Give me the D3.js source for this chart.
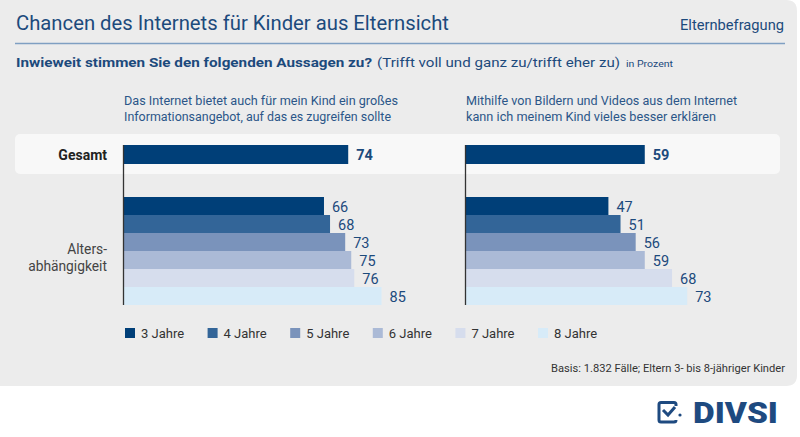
<!DOCTYPE html>
<html><head><meta charset="utf-8">
<script src="https://cdn.jsdelivr.net/npm/d3@7"></script>
<style>
html,body{margin:0;padding:0;background:#fff;}
svg{display:block;font-family:Roboto,"Noto Sans",sans-serif;}
</style></head>
<body>
<script>
const categories = ["3 Jahre","4 Jahre","5 Jahre","6 Jahre","7 Jahre","8 Jahre"];
const gesamtValues = [74, 59];
const internetAges = [66, 68, 73, 75, 76, 85];
const bilderAges = [47, 51, 56, 59, 68, 73];
const ageColors = ["#003f78","#336598","#7a93bb","#abbad6","#d6dded","#d7ebf8"];
const questions = [
  ["Das Internet bietet auch für mein Kind ein großes","Informationsangebot, auf das es zugreifen sollte"],
  ["Mithilfe von Bildern und Videos aus dem Internet","kann ich meinem Kind vieles besser erklären"]
];
const questionWidths = [[274, 267], [271, 250]];
const seriesAges = [internetAges, bilderAges];

const W = 800, H = 437;
const svg = d3.select("body").append("svg").attr("width", W).attr("height", H);
const navy = "#1c4a7c";

// background panel
svg.append("path")
  .attr("d", "M0,0 H786 Q797,0 797,11 V375 Q797,386 786,386 H0 Z")
  .attr("fill", "#ececec");

// title
svg.append("text").attr("x", 16).attr("y", 30).attr("font-size", 19.5)
  .attr("fill", navy).attr("textLength", 433).attr("lengthAdjust","spacingAndGlyphs")
  .text("Chancen des Internets für Kinder aus Elternsicht");
svg.append("text").attr("x", 784).attr("y", 30).attr("font-size", 14.5)
  .attr("text-anchor", "end").attr("fill", navy)
  .attr("textLength", 104).attr("lengthAdjust","spacingAndGlyphs").text("Elternbefragung");
svg.append("line").attr("x1", 15).attr("x2", 785).attr("y1", 43.5).attr("y2", 43.5)
  .attr("stroke", "#7f9fc2").attr("stroke-width", 1.5);

// subtitle
svg.append("text").attr("x", 16).attr("y", 67).attr("font-size", 13.5).attr("fill", navy)
  .attr("font-weight", "bold").attr("textLength", 356).attr("lengthAdjust","spacingAndGlyphs")
  .text("Inwieweit stimmen Sie den folgenden Aussagen zu?");
svg.append("text").attr("x", 377).attr("y", 67).attr("font-size", 13.5).attr("fill", navy)
  .attr("textLength", 243).attr("lengthAdjust","spacingAndGlyphs")
  .text("(Trifft voll und ganz zu/trifft eher zu)");
svg.append("text").attr("x", 626).attr("y", 67).attr("font-size", 9.5).attr("fill", navy)
  .attr("textLength", 47).attr("lengthAdjust","spacingAndGlyphs").text("in Prozent");

// gesamt band
svg.append("rect").attr("x", 15).attr("y", 134).attr("width", 765).attr("height", 40)
  .attr("rx", 5).attr("fill", "#f8f8f8");

// row labels
svg.append("text").attr("x", 107).attr("y", 160).attr("text-anchor", "end")
  .attr("font-size", 14).attr("font-weight", "bold").attr("fill", "#222").text("Gesamt");
svg.append("text").attr("x", 107).attr("y", 254).attr("text-anchor", "end")
  .attr("font-size", 13.8).attr("fill", "#444").text("Alters-");
svg.append("text").attr("x", 107).attr("y", 271).attr("text-anchor", "end")
  .attr("font-size", 13.8).attr("fill", "#444").text("abhängigkeit");

const panelX = [124, 466];
const x = d3.scaleLinear().domain([0, 100]).range([0, 303]);
const yAge = d3.scaleBand().domain(categories).range([197, 305]).padding(0);
const yG = {top: 145, h: 19};

panelX.forEach((px, i) => {
  const g = svg.append("g").attr("transform", `translate(${px},0)`);
  // header
  questions[i].forEach((line, j) => {
    g.append("text").attr("x", 0).attr("y", 105 + j * 15.5).attr("font-size", 12)
      .attr("fill", "#2b5688").attr("textLength", questionWidths[i][j])
      .attr("lengthAdjust","spacingAndGlyphs").text(line);
  });
  // gesamt bar
  g.append("rect").attr("x", 0).attr("y", yG.top).attr("width", x(gesamtValues[i]))
    .attr("height", yG.h).attr("fill", "#003f78");
  g.append("text").attr("x", x(gesamtValues[i]) + 8).attr("y", yG.top + 15)
    .attr("font-size", 14.5).attr("font-weight", "bold").attr("fill", navy).text(gesamtValues[i]);
  // age bars
  g.selectAll("rect.age").data(seriesAges[i]).join("rect").attr("class", "age")
    .attr("x", 0).attr("y", (d, k) => yAge(categories[k]))
    .attr("width", d => x(d)).attr("height", yAge.bandwidth())
    .attr("fill", (d, k) => ageColors[k]);
  g.selectAll("text.val").data(seriesAges[i]).join("text").attr("class", "val")
    .attr("x", d => x(d) + 8).attr("y", (d, k) => yAge(categories[k]) + 15)
    .attr("font-size", 14.5).attr("fill", navy).text(d => d);
  // axis line
  g.append("line").attr("x1", -0.5).attr("x2", -0.5).attr("y1", 145).attr("y2", 305)
    .attr("stroke", "#333").attr("stroke-width", 1.3);
});

// legend
const legX = d3.scalePoint().domain(categories).range([125, 538]);
const leg = svg.append("g");
categories.forEach((c, k) => {
  leg.append("rect").attr("x", legX(c)).attr("y", 328).attr("width", 10).attr("height", 10)
    .attr("fill", ageColors[k]);
  leg.append("text").attr("x", legX(c) + 16).attr("y", 338).attr("font-size", 13)
    .attr("fill", "#333").text(c);
});

// footnote
svg.append("text").attr("x", 785).attr("y", 372).attr("text-anchor", "end")
  .attr("font-size", 11).attr("fill", "#333")
  .attr("textLength", 234).attr("lengthAdjust","spacingAndGlyphs")
  .text("Basis: 1.832 Fälle; Eltern 3- bis 8-jähriger Kinder");

// logo
const logo = svg.append("g").attr("fill", "none").attr("stroke", "#1e4a80");
logo.append("path").attr("d", "M676,406 V404.5 Q676,402.5 674,402.5 H661 Q659,402.5 659,404.5 V420 Q659,422 661,422 H674 Q676,422 676,420")
  .attr("stroke-width", 3);
logo.append("path").attr("d", "M663,410 L668,415 L675,407").attr("stroke-width", 3);
svg.append("circle").attr("cx", 680).attr("cy", 415).attr("r", 1.6).attr("fill", "#1e4a80");
svg.append("text").attr("x", 693).attr("y", 423).attr("font-size", 29).attr("font-weight", "900")
  .attr("fill", "#1e4a80").attr("textLength", 85).attr("lengthAdjust","spacingAndGlyphs").text("DIVSI");
</script>
</body></html>
